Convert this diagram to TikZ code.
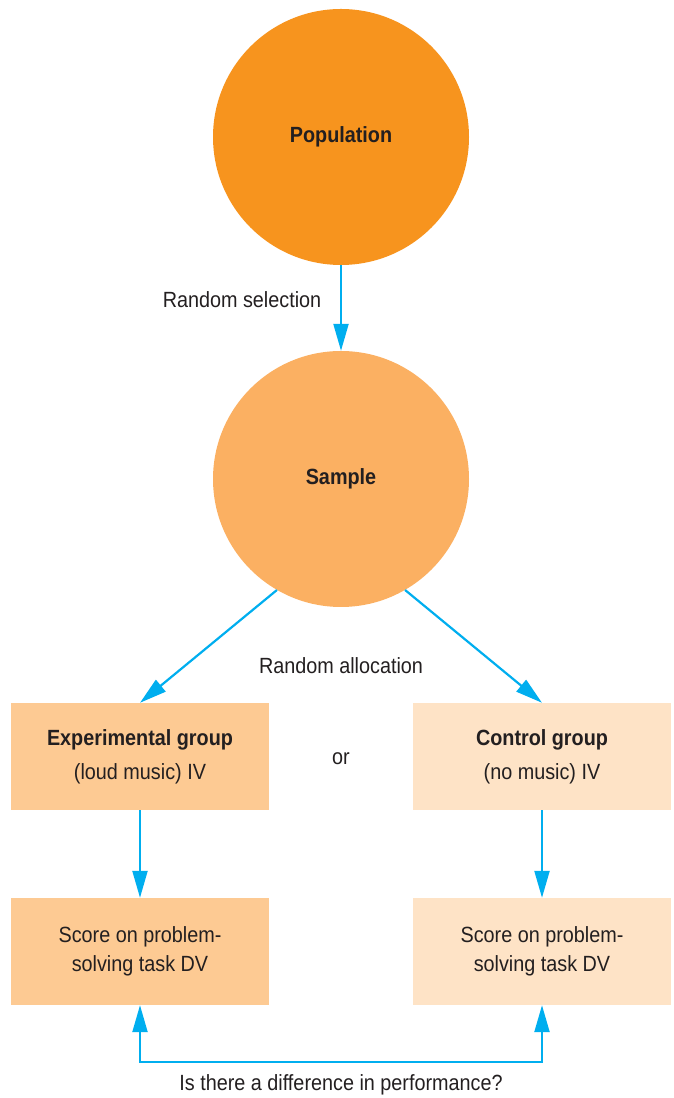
\documentclass[tikz,border=0pt]{standalone}
\usepackage{fontspec}
\setmainfont{Liberation Sans}[FakeStretch=0.9]
\usetikzlibrary{arrows.meta}
\definecolor{popfill}{HTML}{F7941E}
\definecolor{samplefill}{HTML}{FBB062}
\definecolor{expfill}{HTML}{FDCA93}
\definecolor{ctlfill}{HTML}{FEE3C6}
\definecolor{arrowblue}{HTML}{00AEEF}
\definecolor{ink}{HTML}{231F20}
\begin{document}
\begin{tikzpicture}[x=1pt,y=1pt,
  every node/.style={text=ink, font=\fontsize{22}{26}\selectfont},
  blob/.style={circle, minimum size=256pt, inner sep=0pt, draw=none},
  groupbox/.style={rectangle, minimum width=258pt, minimum height=107pt, inner sep=0pt, align=center,
    font=\fontsize{22}{34}\selectfont},
  scorebox/.style={rectangle, minimum width=258pt, minimum height=107pt, inner sep=0pt, align=center,
    font=\fontsize{22}{29}\selectfont},
  flow/.style={draw=arrowblue, line width=2.2pt, -{Triangle[length=27pt, width=15pt]}},
  lbl/.style={inner sep=0pt}]
\useasboundingbox (0,0) rectangle (673,1098);

% circles
\node[blob, fill=popfill] (pop) at (341,961) {\textbf{Population}};
\node[blob, fill=samplefill] (sample) at (341,619) {\textbf{Sample}};

% group boxes
\node[groupbox, fill=expfill] (exp) at (140,341.5) {\textbf{Experimental group}\\(loud music) IV};
\node[groupbox, fill=ctlfill] (ctl) at (542,341.5) {\textbf{Control group}\\(no music) IV};
\node[lbl] (or) at (341,339) {or};

% outcome boxes
\node[scorebox, fill=expfill] (expdv) at (140,146.5) {Score on problem-\\solving task DV};
\node[scorebox, fill=ctlfill] (ctldv) at (542,146.5) {Score on problem-\\solving task DV};

% labels
\node[lbl] (sel) at (242,798) {Random selection};
\node[lbl] (alloc) at (341,432) {Random allocation};
\node[lbl] (diff) at (341,13) {Is there a difference in performance?};

% connectors
\draw[flow] (pop) -- (sample);
\draw[flow] (sample.240) -- (exp.north);
\draw[flow] (sample.300) -- (ctl.north);
\draw[flow] (exp) -- (expdv);
\draw[flow] (ctl) -- (ctldv);
\coordinate (bl) at (140,36);
\coordinate (br) at (542,36);
\draw[flow, {Triangle[length=27pt, width=15pt]}-{Triangle[length=27pt, width=15pt]}]
  (expdv.south) -- (bl) -- (br) -- (ctldv.south);
\end{tikzpicture}
\end{document}
